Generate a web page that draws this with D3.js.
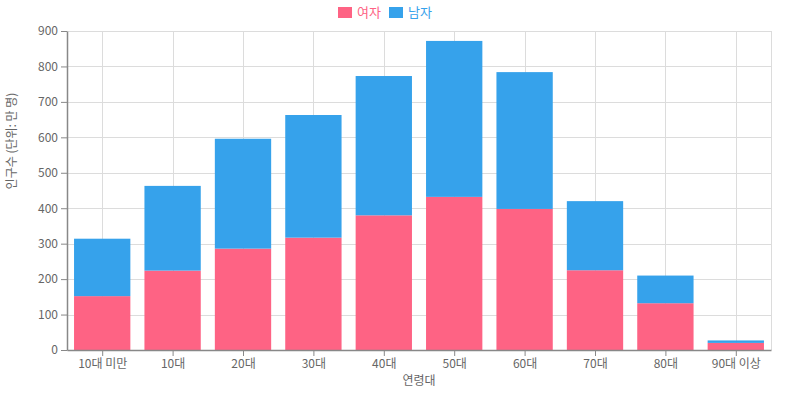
<!DOCTYPE html>
<html>
<head>
<meta charset="utf-8">
<script src="https://cdn.jsdelivr.net/npm/d3@7/dist/d3.min.js"></script>
<style>
  body { margin: 0; background: #fff; }
  svg { font-family: "Noto Sans CJK KR", "Noto Sans", sans-serif; }
</style>
</head>
<body>
<div id="chart"></div>
<script>
// donnees (unite : 만 명)
const categories = ["10대 미만", "10대", "20대", "30대", "40대", "50대", "60대", "70대", "80대", "90대 이상"];
const female = [152, 224, 286, 317, 380, 432, 398, 225, 132, 20];
const male = [162, 239, 310, 346, 393, 440, 386, 195, 78, 7];
const yTicks = [0, 100, 200, 300, 400, 500, 600, 700, 800, 900];
const seriesNames = ["여자", "남자"];
const colors = ["#fe6384", "#36a2eb"];

const W = 800, H = 398;
const margin = {top: 31, right: 29, bottom: 48, left: 67};
const w = W - margin.left - margin.right;
const h = H - margin.top - margin.bottom;

const svg = d3.select("#chart").append("svg").attr("width", W).attr("height", H);
const g = svg.append("g").attr("transform", "translate(" + margin.left + "," + margin.top + ")");

const x = d3.scaleBand().domain(categories).range([0, w]).paddingInner(0.2).paddingOuter(0.1);
const xc = d3.scalePoint().domain(categories).range([0, w]).padding(0.5); // centres pour la grille
const y = d3.scaleLinear().domain([0, 900]).range([h, 0]);

// grille horizontale
g.append("g").selectAll("line").data(yTicks).join("line")
  .attr("x1", 0).attr("x2", w)
  .attr("y1", d => Math.round(y(d)) + 0.5).attr("y2", d => Math.round(y(d)) + 0.5)
  .attr("stroke", "#dcdcdc");
// grille verticale
g.append("g").selectAll("line").data(categories).join("line")
  .attr("x1", d => Math.round(xc(d)) + 0.5).attr("x2", d => Math.round(xc(d)) + 0.5)
  .attr("y1", 0).attr("y2", h)
  .attr("stroke", "#dcdcdc");
g.append("line").attr("x1", w + 0.5).attr("x2", w + 0.5).attr("y1", 0).attr("y2", h).attr("stroke", "#dcdcdc");

// barres empilees
const rows = categories.map((c, i) => ({cat: c, f: female[i], m: male[i]}));
const stack = d3.stack().keys(["f", "m"])(rows);
g.append("g").selectAll("g").data(stack).join("g")
  .attr("fill", (d, i) => colors[i])
  .selectAll("rect").data(d => d).join("rect")
  .attr("x", d => x(d.data.cat))
  .attr("width", x.bandwidth())
  .attr("y", d => y(d[1]))
  .attr("height", d => y(d[0]) - y(d[1]));

// axes
const yAxis = g.append("g").call(d3.axisLeft(y).tickValues(yTicks).tickSize(6).tickSizeOuter(0).tickPadding(3));
const xAxis = g.append("g").attr("transform", "translate(0," + h + ")")
  .call(d3.axisBottom(xc).tickSize(6).tickSizeOuter(0).tickPadding(3));
[yAxis, xAxis].forEach(a => {
  a.select(".domain").attr("stroke", "#888").attr("stroke-width", 1.5);
  a.selectAll(".tick line").attr("stroke", "#888");
  a.selectAll("text").attr("fill", "#666").style("font-size", "12px")
    .style("font-family", "\"Noto Sans CJK KR\", sans-serif");
});

// titres des axes
svg.append("text").attr("x", margin.left + w / 2).attr("y", 385)
  .attr("text-anchor", "middle").attr("fill", "#666").style("font-size", "12px").text("연령대");
svg.append("text").attr("transform", "translate(16,141) rotate(-90)")
  .attr("text-anchor", "middle").attr("fill", "#666").style("font-size", "12px").text("인구수 (단위: 만 명)");

// legende
const leg = svg.append("g").attr("transform", "translate(338,6)");
seriesNames.forEach((s, i) => {
  const lg = leg.append("g").attr("transform", "translate(" + (i * 51) + ",0)");
  lg.append("rect").attr("width", 14).attr("height", 11).attr("y", 1).attr("fill", colors[i]);
  lg.append("text").attr("x", 19).attr("y", 11).attr("fill", colors[i])
    .style("font-size", "13px").text(s);
});
</script>
</body>
</html>
